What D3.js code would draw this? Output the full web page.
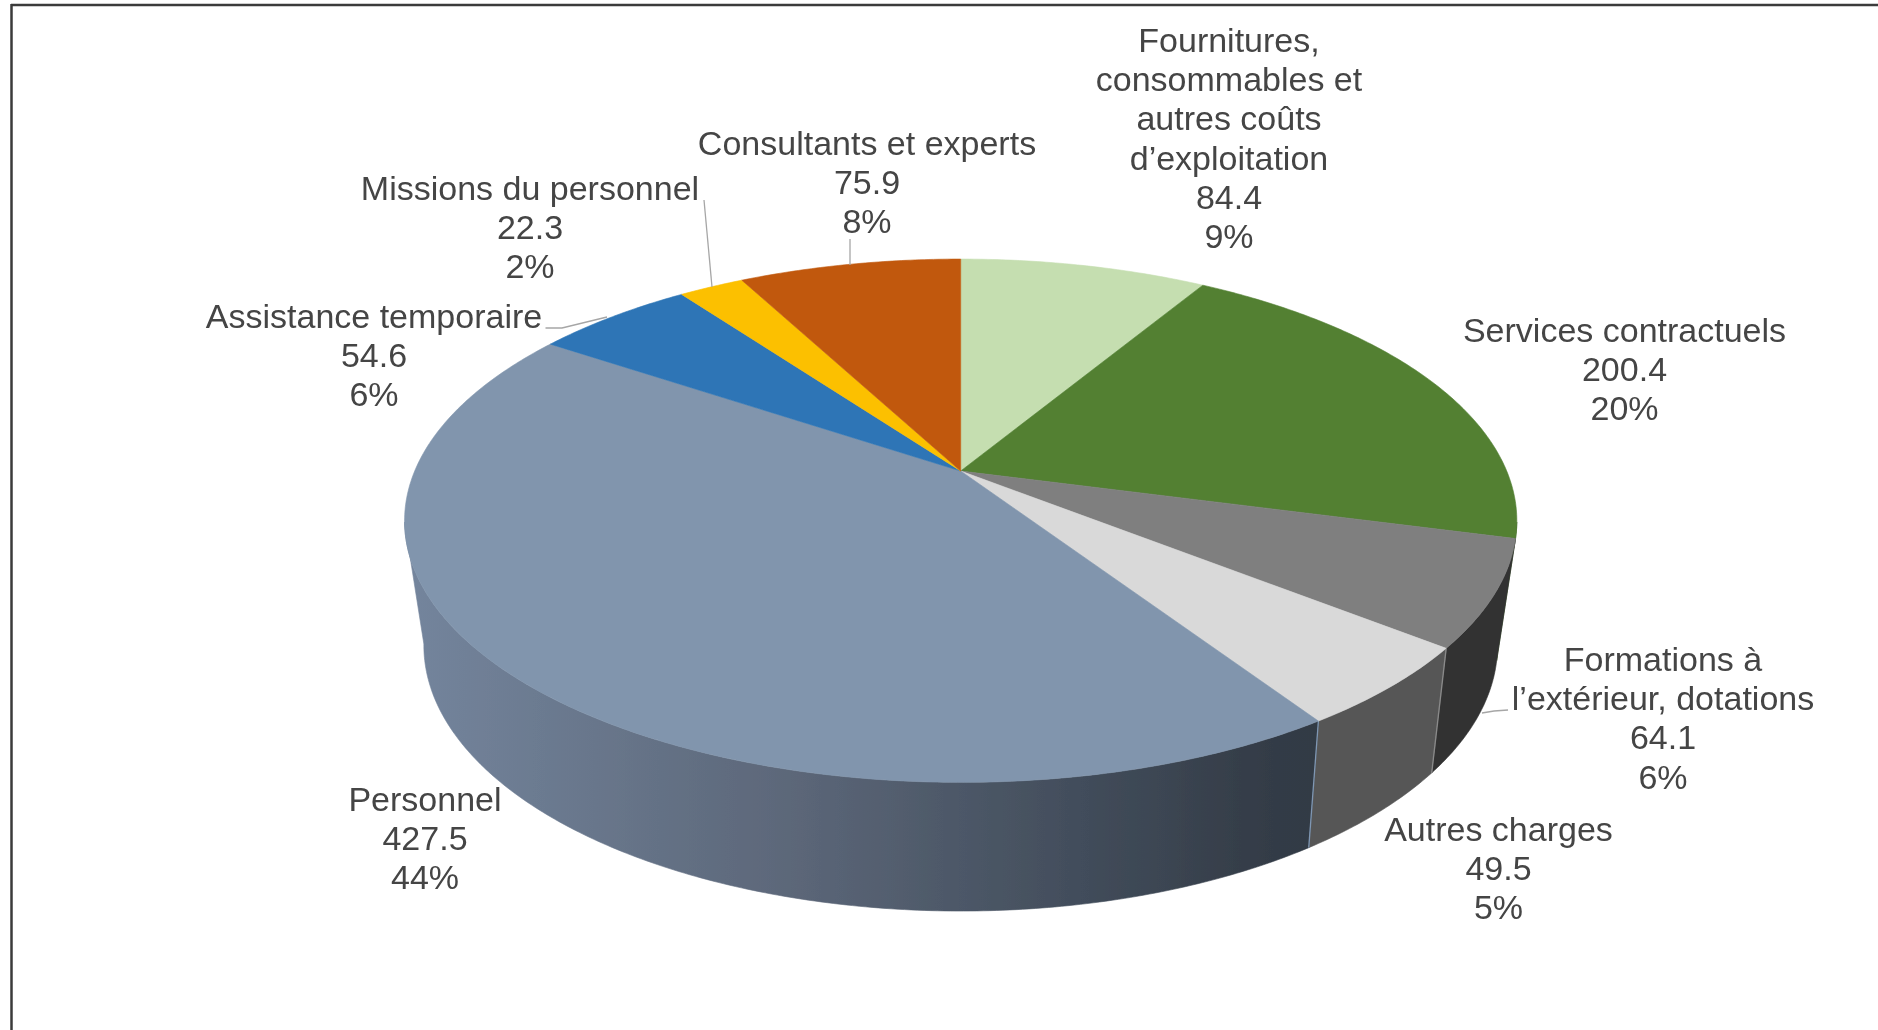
<!DOCTYPE html>
<html><head><meta charset="utf-8">
<script src="https://cdn.jsdelivr.net/npm/d3@7"></script>
<style>html,body{margin:0;padding:0;background:#fff}svg{display:block}</style>
</head><body><svg id="c" width="1878" height="1030"></svg>
<script>
// ---- data ----
const categories = ["Fournitures, consommables et autres coûts d’exploitation","Services contractuels","Formations à l’extérieur, dotations","Autres charges","Personnel","Assistance temporaire","Missions du personnel","Consultants et experts"];
const values = [84.4,200.4,64.1,49.5,427.5,54.6,22.3,75.9];
const percentLabels = ["9%","20%","6%","5%","44%","6%","2%","8%"];
const labelLines = [["Fournitures,","consommables et","autres coûts","d’exploitation"],["Services contractuels"],["Formations à","l’extérieur, dotations"],["Autres charges"],["Personnel"],["Assistance temporaire"],["Missions du personnel"],["Consultants et experts"]];
// ---- styling / layout ----
const topColors = ["#c5deb0","#528033","#7f7f7f","#d9d9d9","#8195ad","#2e75b6","#fcc000","#c1590f"];
const sideColors = ["#8aa078","#3a5a24","#333333","#575757","url(#persoSide)","#1f5080","#b38600","#8a3f0c"];
const edgeColors = [null,null,null,"#8a8a8a","#7f97b3",null,null,null];
const labelCenter = [[1229,40],[1624.5,330],[1663,659],[1498.5,829],[425,799],[374,316],[530,188],[867,143]];
const lineStep = 39.1, fontSize = 34;
const leaders = [null,null,[[1508,710],[1494,711],[1482,713]],null,null,[[545.5,328],[562,328],[607,317]],[[704,200],[712,287]],[[850,239],[850,265]]];

const svg = d3.select("#c");
const defs = svg.append("defs");
const grad = defs.append("linearGradient").attr("id","persoSide").attr("gradientUnits","userSpaceOnUse").attr("x1",404).attr("x2",1320).attr("y1",0).attr("y2",0);
[[0,"#74859d"],[0.42,"#5c6779"],[0.75,"#414c5a"],[0.95,"#333b46"],[1,"#323a45"]].forEach(s=>grad.append("stop").attr("offset",s[0]).attr("stop-color",s[1]));
defs.append("filter").attr("id","soft").attr("filterUnits","userSpaceOnUse").attr("x",0).attr("y",0).attr("width",1878).attr("height",1030)
  .append("feGaussianBlur").attr("stdDeviation",0.45);
const root = svg.append("g").attr("filter","url(#soft)");

// border
root.append("line").attr("x1",11).attr("x2",1878).attr("y1",5).attr("y2",5).attr("stroke","#3a3a3a").attr("stroke-width",2.5);
root.append("line").attr("x1",11.5).attr("x2",11.5).attr("y1",4).attr("y2",1030).attr("stroke","#3a3a3a").attr("stroke-width",2.5);

// perspective planes
const CX = 960.7, APEX_Y = 471;
const plane = (a,b,k,y0) => t => { const X=Math.sin(t),Y=Math.cos(t),d=1+k*Y; return [CX+a*X/d, y0-b*Y/d]; };
const topP = plane(546,252.2,0.19,APEX_Y);
const botP = plane(526,255,0.2,592.3);
const line = d3.line();
const arcPts = (p,t0,t1) => { const n=Math.max(2,Math.ceil(Math.abs(t1-t0)/0.01)); return d3.range(n+1).map(i=>p(t0+(t1-t0)*i/n)); };

const arcs = d3.pie().sort(null).value(d=>d)(values);
const visL = Math.acos(-0.195), visR = 2*Math.PI-visL;

// sides, back to front
const sideG = root.append("g");
[...arcs.keys()].forEach(i=>{
  const a=arcs[i], t0=Math.max(a.startAngle,visL), t1=Math.min(a.endAngle,visR);
  if(t1<=t0) return;
  const pts = arcPts(topP,t0,t1).concat(arcPts(botP,t1,t0));
  sideG.append("path").attr("d",line(pts)+"Z").attr("fill",sideColors[i]).attr("stroke",sideColors[i]).attr("stroke-width",0.6);
});
arcs.forEach((a,i)=>{ if(edgeColors[i]){ const s=topP(a.startAngle),e=botP(a.startAngle);
  sideG.append("line").attr("x1",s[0]).attr("y1",s[1]).attr("x2",e[0]).attr("y2",e[1]).attr("stroke",edgeColors[i]).attr("stroke-width",1.3);} });

// top
const topG = root.append("g");
arcs.forEach((a,i)=>{
  const pts=[[CX,APEX_Y]].concat(arcPts(topP,a.startAngle,a.endAngle));
  topG.append("path").attr("d",line(pts)+"Z").attr("fill",topColors[i]).attr("stroke",topColors[i]).attr("stroke-width",0.6);
});

// leader lines
leaders.forEach(l=>{ if(l) root.append("path").attr("d",line(l)).attr("fill","none").attr("stroke","#a6a6a6").attr("stroke-width",1.3); });

// labels
const fmt = d3.format(".1f");
categories.forEach((c,i)=>{
  const lines = labelLines[i].concat([fmt(values[i]),percentLabels[i]]);
  const t = root.append("text").attr("font-family","'Liberation Sans',Arial,sans-serif").attr("font-size",fontSize).attr("fill","#444444").attr("text-anchor","middle");
  lines.forEach((s,j)=>t.append("tspan").attr("x",labelCenter[i][0]).attr("y",labelCenter[i][1]+j*lineStep).attr("dy","0.36em").text(s));
});
</script></body></html>
